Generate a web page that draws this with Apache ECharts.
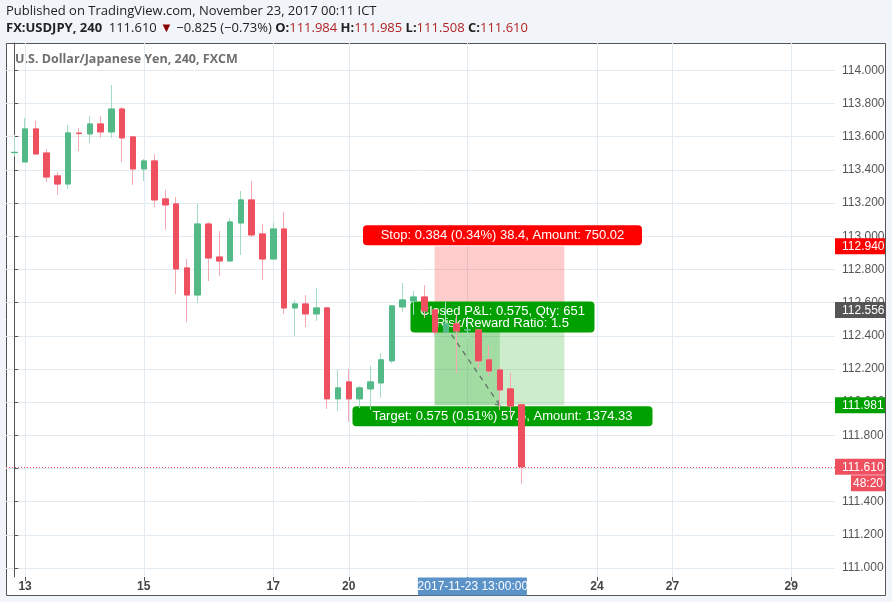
<!DOCTYPE html>
<html><head><meta charset="utf-8">
<style>html,body{margin:0;padding:0;background:#f1f5f9}#c{width:892px;height:602px}</style>
<script src="https://cdn.jsdelivr.net/npm/echarts@6/dist/echarts.min.js"></script>
</head><body><div id="c"></div>
<script>
const opens=[113.504,113.448,113.647,113.502,113.364,113.315,113.622,113.617,113.677,113.629,113.767,113.599,113.406,113.454,113.225,113.195,112.809,112.646,113.074,112.875,112.851,113.080,113.219,113.014,112.863,113.044,112.568,112.592,112.532,112.568,112.020,112.122,112.020,112.080,112.116,112.249,112.574,112.610,112.634,112.556,112.423,112.472,112.435,112.435,112.255,112.194,112.080,111.984];
const closes=[113.506,113.647,113.496,113.357,113.315,113.623,113.619,113.677,113.629,113.767,113.593,113.406,113.454,113.219,113.189,112.803,112.646,113.074,112.869,112.851,113.086,113.219,113.008,112.863,113.044,112.568,112.592,112.532,112.568,112.020,112.086,112.020,112.086,112.122,112.255,112.580,112.616,112.634,112.550,112.423,112.472,112.429,112.437,112.249,112.188,112.074,111.977,111.610];
const lows=[113.480,113.448,113.490,113.327,113.249,113.285,113.514,113.563,113.593,113.593,113.448,113.309,113.333,113.177,113.038,112.652,112.484,112.598,112.730,112.761,112.851,112.887,112.996,112.737,112.863,112.532,112.399,112.453,112.490,111.959,111.947,111.881,111.965,111.953,112.026,112.236,112.544,112.526,112.508,112.405,112.423,112.176,112.387,112.200,112.158,111.953,111.905,111.508];
const highs=[113.611,113.713,113.695,113.526,113.388,113.671,113.653,113.725,113.725,113.912,113.779,113.599,113.466,113.496,113.279,113.237,112.863,113.195,113.086,113.032,113.110,113.273,113.333,113.074,113.080,113.147,112.616,112.646,112.688,112.574,112.194,112.200,112.098,112.218,112.297,112.586,112.718,112.670,112.706,112.556,112.604,112.526,112.514,112.441,112.345,112.212,112.176,111.985];
const priceTicks=[111,111.2,111.4,111.6,111.8,112,112.2,112.4,112.6,112.8,113,113.2,113.4,113.6,113.8,114];
const dateTickIndex=[1,12,24,31,42,54,61,72];
const dateTickLabels=['13','15','17','20','22','24','27','29'];
const stopPrice=112.940, entryPrice=112.556, targetPrice=111.981, lastPrice=111.610;
const zoneStart=38.95, zoneEnd=50.98, closeIndex=45;

const UP='#53b987', DOWN='#ef5060', UPW='#a3dcc0', DOWNW='#f7a9b3';
const AF='"Liberation Sans",Arial,sans-serif';
const indices=opens.map((_,i)=>i);
const full=indices.map(i=>[i,opens[i],closes[i],lows[i],highs[i]]);
const body=indices.map(i=>[i,opens[i],closes[i],Math.min(opens[i],closes[i]),Math.max(opens[i],closes[i])]);

function box(cx,y,w,h,fill,text){
  return {type:'group',children:[
    {type:'rect',shape:{x:cx-w/2,y:y,width:w,height:h,r:4},style:{fill:fill}},
    {type:'text',style:{x:cx,y:y+h/2+.5,text:text,fill:'#fff',font:'13px '+AF,align:'center',verticalAlign:'middle'}}
  ]};
}
function renderTool(params,api){
  const x0=api.coord([zoneStart,stopPrice])[0], x1=api.coord([zoneEnd,stopPrice])[0], xc=api.coord([closeIndex,stopPrice])[0];
  const yS=api.coord([0,stopPrice])[1], yE=api.coord([0,entryPrice])[1], yT=api.coord([0,targetPrice])[1];
  const cx=x0+(x1-x0)/2+3;
  const rect=(a,b,c,d,f)=>({type:'rect',shape:{x:a,y:b,width:c-a,height:d-b},style:{fill:f}});
  const arrowEnd=[xc,yT];
  return {type:'group',children:[
    rect(x0,yS,x1,yE,'rgba(255,0,0,0.2)'),
    rect(x0,yE,x1,yT,'rgba(0,160,0,0.2)'),
    rect(x0,yE,xc,yT,'rgba(0,160,0,0.2)'),
    {type:'line',shape:{x1:x0,y1:yE,x2:arrowEnd[0],y2:arrowEnd[1]},style:{stroke:'#5f6f62',lineWidth:1.2,lineDash:[5,5]}},
    {type:'polyline',shape:{points:[[xc-5,yT-1],[xc,yT],[xc-1,yT-5]]},style:{stroke:'#5f6f62',lineWidth:1.2,fill:'none'}},
    box(cx,yS-21,279,20,'#ff0000','Stop: 0.384 (0.34%) 38.4, Amount: 750.02'),
    box(cx,yT+1,300,20,'#00a000','Target: 0.575 (0.51%) 57.5, Amount: 1374.33'),
    {type:'group',children:[
      {type:'rect',shape:{x:cx-92,y:yE-8.5,width:184,height:31,r:4},style:{fill:'#00a000'}},
      {type:'text',style:{x:cx,y:yE+1.5,text:'Closed P&L: 0.575, Qty: 651',fill:'#fff',font:'13px '+AF,align:'center',verticalAlign:'middle'}},
      {type:'text',style:{x:cx,y:yE+14,text:'Risk/Reward Ratio: 1.5',fill:'#fff',font:'13px '+AF,align:'center',verticalAlign:'middle'}}
    ]}
  ]};
}
function renderOverlay(params,api){
  const right=api.coord([76.06,lastPrice])[0];
  const yL=api.coord([0,lastPrice])[1], x0=api.coord([-0.769,lastPrice])[0];
  const tag=(p,fill,txt)=>{const y=api.coord([0,p])[1];return {type:'group',children:[
    {type:'rect',shape:{x:right,y:y-8,width:50,height:16},style:{fill:fill}},
    {type:'text',style:{x:right+7,y:y+.5,text:txt,fill:'#fff',font:'12px '+AF,align:'left',verticalAlign:'middle'}}]};};
  const xh=api.coord([42.5,lastPrice])[0];
  const plotBottom=api.coord([0,110.946])[1];
  return {type:'group',children:[
    {type:'line',shape:{x1:x0,y1:Math.round(yL)+.5,x2:right,y2:Math.round(yL)+.5},style:{stroke:DOWN,lineWidth:1,lineDash:[1,2]}},
    tag(stopPrice,'#ff0000','112.940'),
    tag(entryPrice,'#555555','112.556'),
    tag(targetPrice,'#00a000','111.981'),
    tag(lastPrice,DOWN,'111.610'),
    {type:'rect',shape:{x:right+16,y:yL+8.5,width:34,height:16},style:{fill:DOWN}},
    {type:'text',style:{x:right+33,y:yL+17,text:'48:20',fill:'#fff',font:'12px '+AF,align:'center',verticalAlign:'middle'}},
    {type:'rect',shape:{x:xh-55,y:plotBottom+.5,width:109,height:18},style:{fill:'#5b93c9'}},
    {type:'text',style:{x:xh,y:plotBottom+10,text:'2017-11-23 13:00:00',fill:'#fff',font:'12px '+AF,align:'center',verticalAlign:'middle'}}
  ]};
}

const chart=echarts.init(document.getElementById('c'),null,{renderer:'canvas'});
chart.setOption({
  animation:false,
  backgroundColor:'#f1f5f9',
  graphic:[
    {type:'rect',z:-10,shape:{x:6.5,y:43.5,width:879,height:552},style:{fill:'#fff',stroke:'#555',lineWidth:1}},
    {type:'text',z:-5,x:6,y:5,style:{text:'Published on TradingView.com, November 23, 2017 00:11 ICT',fill:'#222',font:'13px "Open Sans"'}},
    {type:'text',z:-5,x:6,y:22,style:{
      text:'{b|FX:USDJPY, 240}  {n|111.610} {t|▼} {n|−0.825 (−0.73%)} {b|O:}{r|111.984} {b|H:}{r|111.985} {b|L:}{r|111.508} {b|C:}{r|111.610}',
      rich:{b:{font:'bold 13px "Open Sans"',fill:'#222'},n:{font:'13px "Open Sans"',fill:'#222'},r:{font:'13px "Open Sans"',fill:'#b22222'},t:{font:'13px "Open Sans"',fill:'#8b0000'}}}},
    {type:'text',z:-5,x:15,y:53,style:{text:'U.S. Dollar/Japanese Yen, 240, FXCM',fill:'#6f6f6f',font:'bold 12.5px "Open Sans"'}}
  ],
  grid:{left:6,top:43,right:57,bottom:25,show:false},
  xAxis:{type:'value',min:-0.769,max:76.06,
    axisLine:{show:false},
    axisTick:{show:true,customValues:dateTickIndex,length:4,lineStyle:{color:'#555'}},
    axisLabel:{show:true,customValues:dateTickIndex,margin:4,color:'#444',fontFamily:AF,fontSize:12,fontWeight:'bold',
      formatter:v=>dateTickLabels[dateTickIndex.indexOf(v)]},
    splitLine:{show:true,lineStyle:{color:'#e3ebf2',width:1}}},
  yAxis:{type:'value',position:'right',min:110.946,max:114.165,scale:true,
    axisLine:{show:true,lineStyle:{color:'#555'}},
    axisTick:{show:true,customValues:priceTicks,length:4,lineStyle:{color:'#555'}},
    axisLabel:{show:true,customValues:priceTicks,margin:7,color:'#555',fontFamily:AF,fontSize:12,formatter:v=>v.toFixed(3)},
    splitLine:{show:true,lineStyle:{color:'#e3ebf2',width:1}}},
  series:[
    {type:'custom',z:1,coordinateSystem:'cartesian2d',clip:false,silent:true,data:[[closeIndex,entryPrice]],renderItem:renderTool},
    {type:'candlestick',z:2,barWidth:6,data:full,
      itemStyle:{color:UP,color0:DOWN,borderColor:UPW,borderColor0:DOWNW,borderWidth:1}},
    {type:'candlestick',z:3,barWidth:6,data:body,
      itemStyle:{color:UP,color0:DOWN,borderColor:UP,borderColor0:DOWN,borderWidth:1}},
    {type:'custom',z:10,coordinateSystem:'cartesian2d',clip:false,silent:true,data:[[42,lastPrice]],renderItem:renderOverlay}
  ]
});
</script></body></html>
